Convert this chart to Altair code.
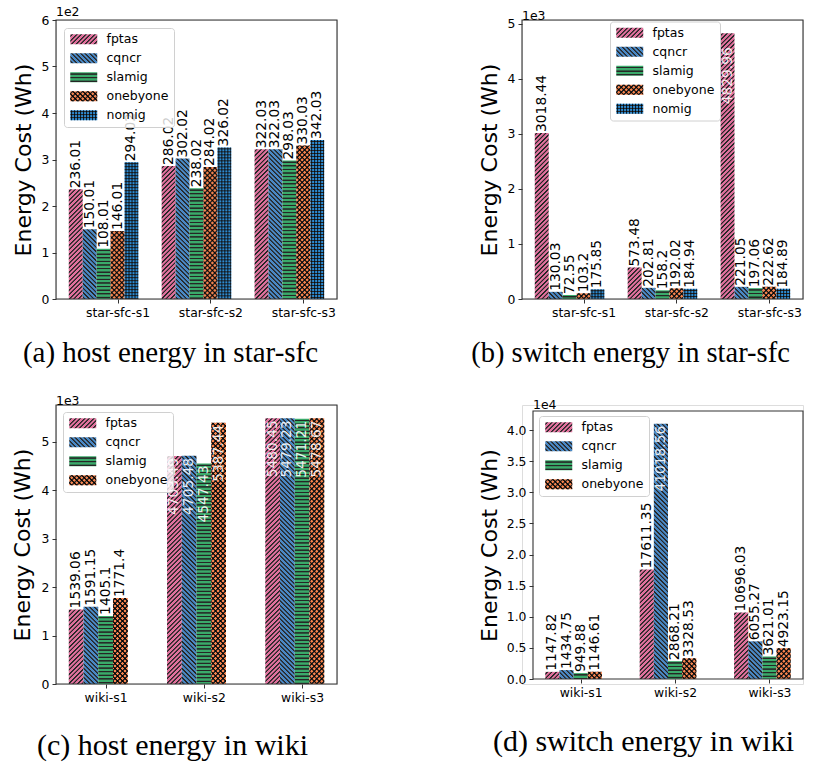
import json
import altair as alt

# ---------------- data ----------------
SERIES = ["fptas", "cqncr", "slamig", "onebyone", "nomig"]
COLORS = ["#e0719d", "#4a88c4", "#3aaa6a", "#f5834e", "#2d8bd2"]

cats_star = ["star-sfc-s1", "star-sfc-s2", "star-sfc-s3"]
cats_wiki = ["wiki-s1", "wiki-s2", "wiki-s3"]

host_star_fptas = [236.01, 286.02, 322.03]
host_star_cqncr = [150.01, 302.02, 322.03]
host_star_slamig = [108.01, 238.02, 298.03]
host_star_onebyone = [146.01, 284.02, 330.03]
host_star_nomig = [294.02, 326.02, 342.03]

switch_star_fptas = [3018.44, 573.48, 4829.96]
switch_star_cqncr = [130.03, 202.81, 221.05]
switch_star_slamig = [72.55, 158.2, 197.06]
switch_star_onebyone = [103.2, 192.02, 222.62]
switch_star_nomig = [175.85, 184.94, 184.89]

host_wiki_fptas = [1539.06, 4703.49, 5480.45]
host_wiki_cqncr = [1591.15, 4705.48, 5479.23]
host_wiki_slamig = [1405.1, 4547.43, 5471.21]
host_wiki_onebyone = [1771.4, 5387.44, 5478.67]

switch_wiki_fptas = [1147.82, 17611.35, 10696.03]
switch_wiki_cqncr = [1434.75, 41018.56, 6055.27]
switch_wiki_slamig = [949.88, 2868.21, 3621.01]
switch_wiki_onebyone = [1146.61, 3328.53, 4923.15]

# ---------------- hatch styling ----------------
INK = "rgba(0,0,0,0.85)"
CLEAR = "rgba(0,0,0,0)"
HATCH = {
    "fptas": [("/", 4.5, 1.7)],
    "cqncr": [("\\", 4.5, 1.7)],
    "slamig": [("-", 3.6, 1.3)],
    "onebyone": [("/", 5.0, 1.9), ("\\", 5.0, 1.9)],
    "nomig": [("-", 3.0, 1.0), ("|", 3.0, 1.0)],
}
LEG_W, LEG_H = 27.0, 10.0


def stripe_stops(L, period, lw, bg):
    e = 0.3
    pts = [(0.0, bg)]
    s = period * 0.5
    while s - lw / 2 - e < L:
        for off, c in ((s - lw / 2 - e, bg), (s - lw / 2 + e, INK),
                       (s + lw / 2 - e, INK), (s + lw / 2 + e, bg)):
            t = min(max(off / L, 0.0), 1.0)
            pts.append((round(t, 5), c))
        s += period
    pts.append((1.0, bg))
    return [{"offset": t, "color": c} for t, c in pts]


def hatch_gradient(kind, w, h, period, lw, bg):
    w = max(w, 0.5)
    h = max(h, 0.5)
    if kind in ("/", "\\"):
        L = w + h
        k = (w + h) / (w * w + h * h)
        if kind == "/":
            x1, y1, x2, y2 = 0, 0, k * w, k * h
        else:
            x1, y1, x2, y2 = 0, 1, k * w, 1 - k * h
    elif kind == "-":
        L = h
        x1, y1, x2, y2 = 0, 0, 0, 1
    else:
        L = w
        x1, y1, x2, y2 = 0, 0, 1, 0
    return {"gradient": "linear", "x1": round(x1, 6), "y1": round(y1, 6),
            "x2": round(x2, 6), "y2": round(y2, 6),
            "stops": stripe_stops(L, period, lw, bg)}


FONT = "DejaVu Sans"
BW = 0.15
CELL_W, CELL_H = 281, 279


def panel(cats, series_vals, exp, ymax, yticks, yfmt, plot_w, plot_h, off,
          legend_xy, caption, cap_xy, cap_size, ytitle_x, inside_dx, title_dy):
    n = len(series_vals)
    names = SERIES[:n]
    cols = COLORS[:n]
    scale = 10 ** exp
    first = -BW / 2
    last = 2 + (n - 1) * BW + BW / 2
    margin = 0.05 * (last - first)
    xdom = [first - margin, last + margin]
    px_per_x = plot_w / (xdom[1] - xdom[0])
    w_px = BW * px_per_x
    tick_off = (n - 2) * BW
    ox, oy = off

    records = []
    for si, vals in enumerate(series_vals):
        hatches = HATCH[names[si]]
        for gi, v in enumerate(vals):
            h_px = v / scale / ymax * plot_h
            rec = {"series": names[si], "s": si, "g": gi, "v": v,
                   "g1": hatch_gradient(hatches[0][0], w_px, h_px, hatches[0][1], hatches[0][2], cols[si]),
                   "g2": (hatch_gradient(hatches[1][0], w_px, h_px, hatches[1][1], hatches[1][2], CLEAR)
                          if len(hatches) > 1 else None)}
            records.append(rec)

    # legend swatch fills (hatched, like the bars)
    leg1 = []
    leg2 = []
    for si, nm in enumerate(names):
        hs = HATCH[nm]
        leg1.append(alt.ExprRef(json.dumps(
            hatch_gradient(hs[0][0], LEG_W, LEG_H, hs[0][1], hs[0][2], cols[si]))))
        if len(hs) > 1:
            leg2.append(alt.ExprRef(json.dumps(
                hatch_gradient(hs[1][0], LEG_W, LEG_H, hs[1][1], hs[1][2], CLEAR))))
        else:
            leg2.append(CLEAR)

    base = alt.Chart(alt.Data(values=records)).transform_calculate(
        xc=f"datum.g + datum.s * {BW}",
        x0=f"datum.g + datum.s * {BW} - {BW / 2}",
        x1=f"datum.g + datum.s * {BW} + {BW / 2}",
        y=f"datum.v / {scale}",
        y0="0",
        lab="'' + datum.v",
    )

    xaxis = alt.Axis(
        values=[i + tick_off for i in range(len(cats))],
        labelExpr=f"{json.dumps(cats)}[round(datum.value - {tick_off})]",
        labelFont=FONT, labelFontSize=12.4, labelColor="black",
        labelOverlap=False, labelFlush=False, labelPadding=3,
        tickColor="#333", tickSize=4, tickWidth=1, domain=False, grid=False,
        offset=-(CELL_H - oy - plot_h),
        title=caption, titleFont="Liberation Serif", titleFontSize=cap_size,
        titleFontWeight="normal", titleColor="black",
        titleX=cap_xy[0], titleY=cap_xy[1], titleBaseline="middle", titleAlign="center",
    )
    yaxis = alt.Axis(
        values=yticks, format=yfmt,
        labelFont=FONT, labelFontSize=12.4, labelColor="black",
        labelFlush=False, labelOverlap=False, labelPadding=3,
        tickColor="#333", tickSize=4, tickWidth=1, domain=False, grid=False,
        offset=-ox,
        title="Energy Cost (Wh)", titleFont=FONT, titleFontSize=22,
        titleFontWeight="normal", titleColor="black",
        titleX=ytitle_x, titleY=oy + plot_h / 2, titleAngle=270,
        titleBaseline="middle", titleAlign="center",
    )
    xs = alt.Scale(domain=xdom, range=[ox, ox + plot_w], nice=False, zero=False)
    ys = alt.Scale(domain=[0, ymax], range=[oy + plot_h, oy], nice=False, zero=True)

    X0 = alt.X("x0:Q", scale=xs, axis=xaxis)
    X2 = alt.X2("x1:Q")
    XC = alt.X("xc:Q", scale=xs, axis=xaxis)
    Y = alt.Y("y:Q", scale=ys, axis=yaxis)
    Y2 = alt.Y2("y0:Q")

    legend_common = dict(
        orient="none", legendX=legend_xy[0], legendY=legend_xy[1],
        title=None, symbolType="M-2.7,-1L2.7,-1L2.7,1L-2.7,1Z",
        symbolSize=100, symbolStrokeWidth=0, symbolOffset=8.5, symbolOpacity=1,
        labelFont=FONT, labelFontSize=12.5,
        labelOffset=16.5, padding=5, rowPadding=6, cornerRadius=3,
    )

    bars = base.mark_bar().encode(
        x=X0, x2=X2, y=Y, y2=Y2, color=alt.Color("g1:N", scale=None)
    )
    hatch2 = base.transform_filter("datum.g2 != null").mark_bar().encode(
        x=X0, x2=X2, y=Y, y2=Y2, color=alt.Color("g2:N", scale=None)
    )
    frame = alt.Chart(alt.Data(values=[{"xa": xdom[0], "xb": xdom[1], "ya": 0, "yb": ymax}])).mark_rect(
        filled=False, stroke="#333", strokeWidth=1.1
    ).encode(
        x=alt.X("xa:Q", scale=xs, axis=xaxis), x2="xb:Q",
        y=alt.Y("ya:Q", scale=ys, axis=yaxis), y2="yb:Q",
    )
    legA = base.transform_filter("false").mark_bar().encode(
        x=X0, x2=X2, y=Y, y2=Y2,
        fill=alt.Fill("series:N", sort=names,
                      scale=alt.Scale(domain=names, range=leg1),
                      legend=alt.Legend(labelColor="black",
                                        fillColor="rgba(255,255,255,0.8)",
                                        strokeColor="#d0d0d0", **legend_common)),
    )
    legB = base.transform_filter("false").mark_bar().encode(
        x=X0, x2=X2, y=Y, y2=Y2,
        fill=alt.Fill("series:N", sort=names,
                      scale=alt.Scale(domain=names, range=leg2),
                      legend=alt.Legend(labelColor=CLEAR, **legend_common)),
    )
    thr = 0.7 * ymax
    txt_out = base.transform_filter(f"datum.y <= {thr}").mark_text(
        angle=270, align="left", baseline="middle", dx=1,
        font=FONT, fontSize=13.8, color="black",
    ).encode(x=XC, y=Y, text="lab:N")
    txt_in = base.transform_filter(f"datum.y > {thr}").mark_text(
        angle=270, align="right", baseline="middle", dx=inside_dx,
        font=FONT, fontSize=13.8, color="white", opacity=0.9,
    ).encode(x=XC, y=Y, text="lab:N")

    return alt.layer(bars, hatch2, frame, txt_out, txt_in, legA, legB).resolve_scale(
        fill="independent"
    ).resolve_legend(fill="independent").properties(
        width=CELL_W, height=CELL_H,
        title=alt.TitleParams(f"1e{exp}", anchor="start", frame="group",
                              font=FONT, fontSize=12.4, fontWeight="normal",
                              color="black", offset=-4, dx=ox, dy=title_dy),
    )


pa = panel(cats_star,
           [host_star_fptas, host_star_cqncr, host_star_slamig, host_star_onebyone, host_star_nomig],
           2, 6.0, [0, 1, 2, 3, 4, 5, 6], "d", 281, 279, (0, 0), (8, 8),
           "(a) host energy in star-sfc", (114, 53), 29, -32.5, -2, 0)
pb = panel(cats_star,
           [switch_star_fptas, switch_star_cqncr, switch_star_slamig, switch_star_onebyone, switch_star_nomig],
           3, 4829.96 * 1.05 / 1000, [0, 1, 2, 3, 4, 5], "d", 281, 279, (0, 0), (88, 1.5),
           "(b) switch energy in star-sfc", (108, 53), 28.5, -33, -14, 0)
pc = panel(cats_wiki,
           [host_wiki_fptas, host_wiki_cqncr, host_wiki_slamig, host_wiki_onebyone],
           3, 5480.45 * 1.05 / 1000, [0, 1, 2, 3, 4, 5], "d", 281, 279, (0, 0), (7, 7),
           "(c) host energy in wiki", (116, 61), 30, -33.5, -2, -1)
pd_ = panel(cats_wiki,
            [switch_wiki_fptas, switch_wiki_cqncr, switch_wiki_slamig, switch_wiki_onebyone],
            4, 41018.56 * 1.05 / 10000, [0, 0.5, 1, 1.5, 2, 2.5, 3, 3.5, 4], ".1f", 270, 268, (11, 6), (17, 11),
            "(d) switch energy in wiki", (121, 62), 30, -44, -2, 2)

chart = alt.concat(
    pa, pb, pc, pd_, columns=2,
    spacing={"row": 106, "column": 185}, bounds="flush",
).resolve_scale(
    x="independent", y="independent", fill="independent"
).resolve_legend(fill="independent").configure_view(
    stroke=None
).configure(font=FONT).properties(
    padding={"left": 11, "top": 5, "right": 5, "bottom": 2}
)

chart.save("out.html", embed_options={"renderer": "svg", "actions": False})
